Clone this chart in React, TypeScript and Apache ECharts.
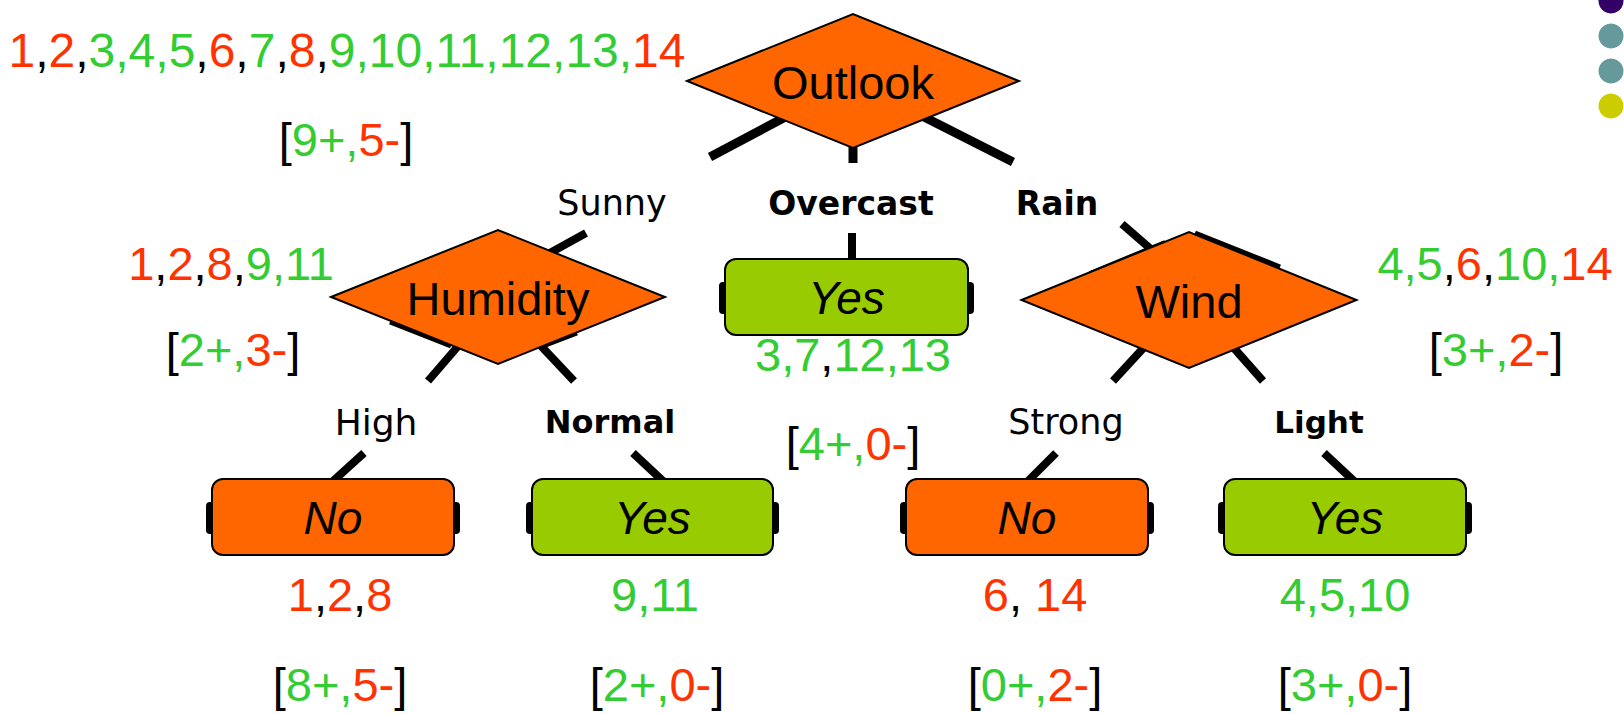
import React, { useEffect, useRef } from 'react';
import * as echarts from 'echarts';

// ---------------- data ----------------
// decision nodes (attributes) and their branch values
const attributes = ['Outlook', 'Humidity', 'Wind'];
const branches = ['Sunny', 'Overcast', 'Rain', 'High', 'Normal', 'Strong', 'Light'];
// leaves, in order: Overcast, High, Normal, Strong, Light
const leaves = ['Yes', 'No', 'Yes', 'No', 'Yes'];

// instance lists: p = positive (green), n = negative (red), k = black
const setRoot = ['n1', 'k,', 'n2', 'k,', 'p3', 'p,', 'p4', 'p,', 'p5', 'k,', 'n6', 'k,', 'p7', 'k,', 'n8', 'k,', 'p9', 'p,', 'p10', 'p,', 'p11', 'p,', 'p12', 'p,', 'p13', 'p,', 'n14'];
const setSunny = ['n1', 'k,', 'n2', 'k,', 'n8', 'k,', 'p9', 'p,', 'p11'];
const setOvercast = ['p3', 'p,', 'p7', 'k,', 'p12', 'p,', 'p13'];
const setRain = ['p4', 'p,', 'p5', 'k,', 'n6', 'k,', 'p10', 'p,', 'n14'];
const setHigh = ['n1', 'k,', 'n2', 'k,', 'n8'];
const setNormal = ['p9', 'p,', 'p11'];
const setStrong = ['n6', 'k, ', 'n14'];
const setLight = ['p4', 'p,', 'p5', 'p,', 'p10'];
const instanceSets = [setRoot, setSunny, setOvercast, setRain, setHigh, setNormal, setStrong, setLight];

// class counts, same order: root, Sunny, Overcast, Rain, High, Normal, Strong, Light
const countsPos = [9, 2, 4, 3, 8, 2, 0, 3];
const countsNeg = [5, 3, 0, 2, 5, 0, 2, 0];

// ---------------- layout & style ----------------
const W = 1624;
const H = 714;
const MAIN = '"Liberation Sans", Arial, sans-serif';
const EDGE = '"DejaVu Sans", sans-serif';
const C_POS = '#33cc33';
const C_NEG = '#ff3300';
const C_DIAMOND = '#ff6600';
const C_YES = '#99cc00';
const C_NO = '#ff6600';

const diamondLayout = [
  { cx: 853, cy: 81, w: 332, h: 134 },
  { cx: 498, cy: 297, w: 334, h: 134 },
  { cx: 1189, cy: 300, w: 335, h: 136 },
];
const leafLayout = [
  { x: 725, y: 259, w: 243, h: 76 },
  { x: 212, y: 479, w: 242, h: 76 },
  { x: 532, y: 479, w: 241, h: 76 },
  { x: 906, y: 479, w: 242, h: 76 },
  { x: 1224, y: 479, w: 242, h: 76 },
];
const branchLayout = [
  { x: 612, y: 203, size: 35, weight: 'normal' },
  { x: 851, y: 203, size: 33, weight: 'bold' },
  { x: 1057, y: 203, size: 33, weight: 'bold' },
  { x: 376, y: 422, size: 36, weight: 'normal' },
  { x: 610, y: 422, size: 32, weight: 'bold' },
  { x: 1066, y: 422, size: 35, weight: 'normal' },
  { x: 1319, y: 422, size: 31, weight: 'bold' },
];
const setLayout = [
  { x: 347, y: 50, size: 48 },
  { x: 231, y: 263, size: 47 },
  { x: 853, y: 354, size: 47 },
  { x: 1495, y: 263, size: 47 },
  { x: 340, y: 594, size: 47 },
  { x: 655, y: 594, size: 47 },
  { x: 1035, y: 594, size: 47 },
  { x: 1345, y: 594, size: 47 },
];
const countLayout = [
  { x: 346, y: 139 },
  { x: 233, y: 349 },
  { x: 853, y: 443 },
  { x: 1496, y: 349 },
  { x: 340, y: 684 },
  { x: 657, y: 684 },
  { x: 1035, y: 684 },
  { x: 1345, y: 684 },
];
// connector segments [x1, y1, x2, y2, width]
const connectorLayout = [
  [853, 81, 710, 157, 9],
  [853, 81, 853, 163, 9],
  [853, 81, 1013, 162, 9],
  [586, 233, 530, 264, 8],
  [852, 233, 852, 262, 8],
  [1122, 224, 1168, 264, 8],
  [472, 330, 428, 381, 8],
  [526, 330, 574, 381, 8],
  [1160, 330, 1113, 381, 8],
  [1218, 330, 1263, 381, 8],
  [364, 453, 332, 482, 8],
  [633, 453, 664, 482, 8],
  [1056, 453, 1027, 482, 8],
  [1324, 453, 1355, 482, 8],
];
// shadows of the scanned figure around diamonds
const shadowLayout = [
  [390, 322, 451, 346, 5],
  [543, 346, 577, 333, 5],
  [1090, 273, 1165, 242, 4],
  [1195, 233, 1280, 267, 5],
];
const dots = [
  { cy: 1, color: '#330066' },
  { cy: 36, color: '#669999' },
  { cy: 71, color: '#669999' },
  { cy: 106, color: '#cccc00' },
];

const richStyles = (size: number) => ({
  p: { fill: C_POS, fontSize: size, fontFamily: MAIN },
  n: { fill: C_NEG, fontSize: size, fontFamily: MAIN },
  k: { fill: '#000', fontSize: size, fontFamily: MAIN },
});
const toRich = (tokens: string[]) => tokens.map((t) => `{${t[0]}|${t.slice(1)}}`).join('');
const countRich = (pos: number, neg: number) => `{k|[}{p|${pos}+,}{n|${neg}-}{k|]}`;

function buildElements() {
  const els: any[] = [];
  connectorLayout.forEach(([x1, y1, x2, y2, w]) => {
    els.push({ type: 'line', silent: true, shape: { x1, y1, x2, y2 }, style: { stroke: '#000', lineWidth: w } });
  });
  shadowLayout.forEach(([x1, y1, x2, y2, w]) => {
    els.push({ type: 'line', silent: true, shape: { x1, y1, x2, y2 }, style: { stroke: '#000', lineWidth: w } });
  });
  attributes.forEach((name, i) => {
    const d = diamondLayout[i];
    els.push({
      type: 'polygon',
      silent: true,
      shape: {
        points: [
          [d.cx - d.w / 2, d.cy],
          [d.cx, d.cy - d.h / 2],
          [d.cx + d.w / 2, d.cy],
          [d.cx, d.cy + d.h / 2],
        ],
      },
      style: { fill: C_DIAMOND, stroke: '#000', lineWidth: 2 },
    });
    els.push({
      type: 'text',
      silent: true,
      x: d.cx,
      y: d.cy + 1,
      style: { text: name, fontSize: 47, fontFamily: MAIN, fill: '#000', align: 'center', verticalAlign: 'middle' },
    });
  });
  leaves.forEach((name, i) => {
    const b = leafLayout[i];
    const cy = b.y + b.h / 2;
    els.push({ type: 'rect', silent: true, shape: { x: b.x - 6, y: cy - 15, width: 10, height: 32, r: 4 }, style: { fill: '#000' } });
    els.push({ type: 'rect', silent: true, shape: { x: b.x + b.w - 4, y: cy - 15, width: 10, height: 32, r: 4 }, style: { fill: '#000' } });
    els.push({
      type: 'rect',
      silent: true,
      shape: { x: b.x, y: b.y, width: b.w, height: b.h, r: 11 },
      style: { fill: name === 'Yes' ? C_YES : C_NO, stroke: '#000', lineWidth: 2 },
    });
    els.push({
      type: 'text',
      silent: true,
      x: b.x + b.w / 2,
      y: cy + 1,
      style: { text: name, fontSize: 46, fontStyle: 'italic', fontFamily: MAIN, fill: '#000', align: 'center', verticalAlign: 'middle' },
    });
  });
  branches.forEach((name, i) => {
    const l = branchLayout[i];
    els.push({
      type: 'text',
      silent: true,
      x: l.x,
      y: l.y,
      style: { text: name, fontSize: l.size, fontWeight: l.weight, fontFamily: EDGE, fill: '#000', align: 'center', verticalAlign: 'middle' },
    });
  });
  instanceSets.forEach((tokens, i) => {
    const l = setLayout[i];
    els.push({
      type: 'text',
      silent: true,
      x: l.x,
      y: l.y,
      style: { text: toRich(tokens), rich: richStyles(l.size), fontSize: l.size, fontFamily: MAIN, align: 'center', verticalAlign: 'middle' },
    });
  });
  countsPos.forEach((pos, i) => {
    const l = countLayout[i];
    els.push({
      type: 'text',
      silent: true,
      x: l.x,
      y: l.y,
      style: { text: countRich(pos, countsNeg[i]), rich: richStyles(47), fontSize: 47, fontFamily: MAIN, align: 'center', verticalAlign: 'middle' },
    });
  });
  dots.forEach((d) => {
    els.push({ type: 'circle', silent: true, shape: { cx: 1611, cy: d.cy, r: 12.5 }, style: { fill: d.color } });
  });
  return els;
}

export default function App() {
  const ref = useRef<HTMLDivElement>(null);
  useEffect(() => {
    if (!ref.current) return;
    const chart = echarts.init(ref.current, undefined, { renderer: 'svg', width: W, height: H });
    chart.setOption({
      animation: false,
      backgroundColor: '#ffffff',
      graphic: { elements: buildElements() },
    });
    return () => chart.dispose();
  }, []);
  return (
    <div
      ref={ref}
      style={{ position: 'fixed', left: 0, top: 0, width: W, height: H, background: '#fff' }}
    />
  );
}
